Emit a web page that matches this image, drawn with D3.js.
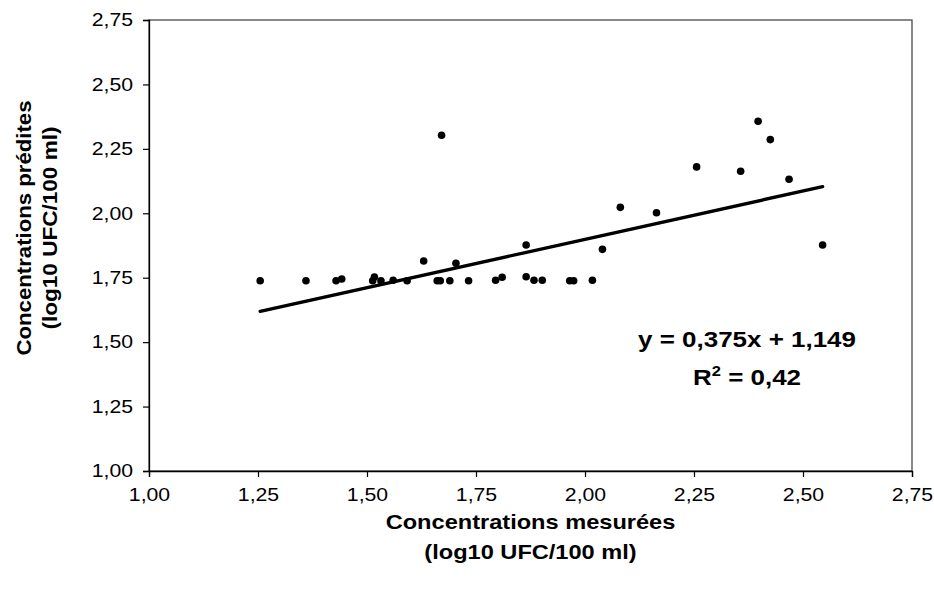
<!DOCTYPE html>
<html>
<head>
<meta charset="utf-8">
<script src="https://d3js.org/d3.v7.min.js"></script>
<style>
  body { margin: 0; background: #fff; }
  svg { display: block; font-family: "Liberation Sans", Arial, sans-serif; }
</style>
</head>
<body>
<div id="chart"></div>
<script>
    // measured vs predicted concentrations (log10 UFC/100 ml)
    const measured = [
        1.255, 1.360, 1.429, 1.442, 1.513, 1.517, 1.532, 1.560, 1.592, 1.630,
        1.661, 1.668, 1.671, 1.690, 1.704, 1.733, 1.795, 1.810, 1.865, 1.865,
        1.883, 1.902, 1.965, 1.974, 2.017, 2.040, 2.081, 2.164, 2.256, 2.357,
        2.397, 2.425, 2.468, 2.545
    ];
    const predicted = [
        1.738, 1.738, 1.738, 1.745, 1.738, 1.753, 1.738, 1.740, 1.738, 1.815,
        1.738, 1.738, 2.303, 1.738, 1.806, 1.738, 1.740, 1.752, 1.877, 1.754,
        1.740, 1.740, 1.738, 1.738, 1.740, 1.860, 2.023, 2.002, 2.180, 2.163,
        2.357, 2.286, 2.132, 1.877
    ];
    const slope = 0.375;
    const intercept = 1.149;
    const equationText = "y = 0,375x + 1,149";
    const r2Text = "0,42";
    const tickValues = [1.00, 1.25, 1.50, 1.75, 2.00, 2.25, 2.50, 2.75];
    const xTitle = ["Concentrations mesurées", "(log10 UFC/100 ml)"];
    const yTitle = ["Concentrations prédites", "(log10 UFC/100 ml)"];

    const width = 934, height = 590;
    const margin = { left: 149, right: 22, top: 20, bottom: 119 };
    const stretch = 1.18; // the original text is drawn a bit wide

    const svg = d3.select("#chart").append("svg")
        .attr("width", width)
        .attr("height", height);

    const x = d3.scaleLinear().domain([1, 2.75]).range([margin.left, width - margin.right]);
    const y = d3.scaleLinear().domain([1, 2.75]).range([height - margin.bottom, margin.top]);

    const fmt = d => d.toFixed(2).replace(".", ",");

    // plot frame
    svg.append("rect")
        .attr("x", x(1)).attr("y", y(2.75))
        .attr("width", x(2.75) - x(1)).attr("height", y(1) - y(2.75))
        .attr("fill", "none")
        .attr("stroke", "#4a4a4a")
        .attr("stroke-width", 1.3);

    const xAxis = svg.append("g")
        .attr("transform", `translate(0,${y(1)})`)
        .call(d3.axisBottom(x).tickValues(tickValues).tickSize(6).tickPadding(11).tickFormat(fmt));
    const yAxis = svg.append("g")
        .attr("transform", `translate(${x(1)},0)`)
        .call(d3.axisLeft(y).tickValues(tickValues).tickSize(6).tickPadding(10).tickFormat(fmt));

    for (const ax of [xAxis, yAxis]) {
        ax.select(".domain").attr("stroke", "#000").attr("stroke-width", 1.3);
        ax.selectAll(".tick line").attr("stroke", "#000").attr("stroke-width", 1.2);
        ax.selectAll(".tick text")
            .attr("font-family", "Liberation Sans, Arial, sans-serif")
            .attr("font-size", 18)
            .attr("fill", "#000");
    }
    // widen tick labels around their anchor
    xAxis.selectAll(".tick text").each(function () {
        const t = d3.select(this);
        const yy = +t.attr("y");
        t.attr("y", null).attr("transform", `translate(0,${yy}) scale(${stretch},1)`);
    });
    yAxis.selectAll(".tick text").each(function () {
        const t = d3.select(this);
        const xx = +t.attr("x");
        t.attr("x", null).attr("transform", `translate(${xx},0) scale(${stretch},1)`);
    });

    // trend line over the data range
    const [x0, x1] = d3.extent(measured);
    svg.append("line")
        .attr("x1", x(x0)).attr("y1", y(slope * x0 + intercept))
        .attr("x2", x(x1)).attr("y2", y(slope * x1 + intercept))
        .attr("stroke", "#000")
        .attr("stroke-width", 3.4)
        .attr("stroke-linecap", "round");

    // points
    svg.append("g")
        .selectAll("circle")
        .data(measured.map((m, i) => [m, predicted[i]]))
        .join("circle")
        .attr("cx", d => x(d[0]))
        .attr("cy", d => y(d[1]))
        .attr("r", 3.8)
        .attr("fill", "#000");

    // equation
    const eqX = 747;
    svg.append("text")
        .attr("transform", `translate(${eqX},347) scale(${stretch},1)`)
        .attr("text-anchor", "middle")
        .attr("font-size", 22)
        .attr("font-weight", "bold")
        .text(equationText);
    const r2 = svg.append("text")
        .attr("transform", `translate(${eqX},385) scale(${stretch},1)`)
        .attr("text-anchor", "middle")
        .attr("font-size", 22)
        .attr("font-weight", "bold");
    r2.append("tspan").text("R");
    r2.append("tspan").attr("font-size", 14).attr("dy", -9).text("2");
    r2.append("tspan").attr("dy", 9).text(" = " + r2Text);

    // axis titles
    const xt = svg.append("g").attr("font-size", 20).attr("font-weight", "bold").attr("text-anchor", "middle");
    xTitle.forEach((s, i) => {
        xt.append("text")
            .attr("transform", `translate(${(x(1) + x(2.75)) / 2},${529 + i * 30}) scale(${stretch},1)`)
            .text(s);
    });
    const yt = svg.append("g").attr("font-size", 20).attr("font-weight", "bold").attr("text-anchor", "middle");
    const yLens = [255, 203];
    yTitle.forEach((s, i) => {
        yt.append("text")
            .attr("transform", `translate(${31 + i * 26},228) rotate(-90)`)
            .attr("textLength", yLens[i])
            .attr("lengthAdjust", "spacingAndGlyphs")
            .text(s);
    });
</script>
</body>
</html>
